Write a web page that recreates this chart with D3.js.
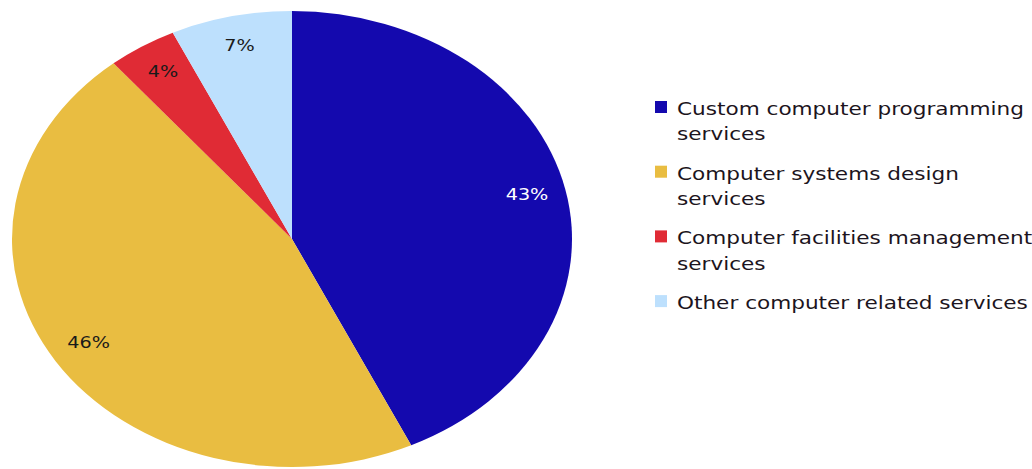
<!DOCTYPE html>
<html>
<head>
<meta charset="utf-8">
<script src="https://cdn.jsdelivr.net/npm/d3@7"></script>
<style>
  html, body { margin: 0; padding: 0; background: #ffffff; }
  svg { display: block; }
  text { font-family: "DejaVu Sans", Verdana, sans-serif; }
</style>
</head>
<body>
<svg id="chart" width="1032" height="469"></svg>
<script>
// Share of computer services employment by segment (percent)
const categories = [
  "Custom computer programming services",
  "Computer systems design services",
  "Computer facilities management services",
  "Other computer related services"
];
const legendLines = [
  ["Custom computer programming", "services"],
  ["Computer systems design", "services"],
  ["Computer facilities management", "services"],
  ["Other computer related services"]
];
const shares = [43, 46, 4, 7];
const sliceColors = ["#1409AE", "#E9BD41", "#E02B35", "#BDE0FD"];
const labelColors = ["#ffffff", "#1a1a1a", "#1a1a1a", "#1a1a1a"];

const svg = d3.select("#chart");

// Pie is drawn as a circle then stretched into an ellipse
const cx = 292, cy = 239, rx = 280, ry = 228;
const R = 100;
const sx = rx / R, sy = ry / R;

const pie = d3.pie().sort(null).value(d => d);
const arcs = pie(shares);
const arc = d3.arc().innerRadius(0).outerRadius(R);
const labelArc = d3.arc().innerRadius(R * 0.86).outerRadius(R * 0.86);

const pieG = svg.append("g")
  .attr("transform", `translate(${cx},${cy}) scale(${sx},${sy})`);
pieG.selectAll("path")
  .data(arcs)
  .join("path")
  .attr("d", arc)
  .attr("fill", (d, i) => sliceColors[i]);

// Slice labels, widened horizontally like the pie
const labelScale = 1.2;
const labelSize = 16;

const labelG = svg.append("g").attr("transform", `translate(${cx},${cy})`);
labelG.selectAll("text")
  .data(arcs)
  .join("text")
  .attr("transform", d => {
    const [x, y] = labelArc.centroid(d);
    return `translate(${x * sx},${y * sy - 2}) scale(${labelScale},1)`;
  })
  .attr("text-anchor", "middle")
  .attr("dy", "0.36em")
  .attr("font-size", labelSize)
  .attr("fill", (d, i) => labelColors[i])
  .text(d => d3.format(".0f")(d.value) + "%");

// Legend
const legendScale = 1.27;
const legendSize = 17;
const legendX = 655, legendTop = 115, itemGap = 64.7, lineGap = 25.5;
const legend = svg.append("g");
const items = legend.selectAll("g")
  .data(categories)
  .join("g")
  .attr("transform", (d, i) => `translate(${legendX},${legendTop + i * itemGap})`);

items.append("rect")
  .attr("x", 0)
  .attr("y", -14)
  .attr("width", 12)
  .attr("height", 12)
  .attr("fill", (d, i) => sliceColors[i]);

const texts = items.append("text")
  .attr("transform", `translate(22,0) scale(${legendScale},1)`)
  .attr("font-size", legendSize)
  .attr("fill", "#1c1420");

texts.selectAll("tspan")
  .data((d, i) => legendLines[i])
  .join("tspan")
  .attr("x", 0)
  .attr("y", (d, j) => j * lineGap)
  .text(d => d);
</script>
</body>
</html>
